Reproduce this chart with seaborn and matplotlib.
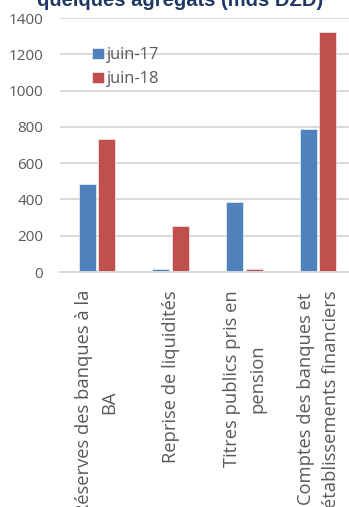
import matplotlib
matplotlib.use("Agg")
import matplotlib.pyplot as plt
import seaborn as sns
import pandas as pd

categories = [
    "Réserves des banques à la\nBA",
    "Reprise de liquidités",
    "Titres publics pris en\npension",
    "Comptes des banques et\nétablissements financiers",
]
series_names = ["juin-17", "juin-18"]
values_juin17 = [484, 15, 384, 789]
values_juin18 = [731, 254, 15, 1323]
y_ticks = [0, 200, 400, 600, 800, 1000, 1200, 1400]
title_text = "quelques agrégats (mds DZD)"

colors = ["#4F81BD", "#C0504D"]
text_gray = "#595959"
grid_gray = "#D9D9D9"

df = pd.DataFrame({
    "categorie": categories * 2,
    "serie": [series_names[0]] * 4 + [series_names[1]] * 4,
    "valeur": values_juin17 + values_juin18,
})

sns.set_theme(style="white")
plt.rcParams["font.family"] = ["Open Sans", "DejaVu Sans"]

W, H = 349, 507
fig = plt.figure(figsize=(W / 100, H / 100), dpi=100)
ax = fig.add_axes([60 / W, (H - 272) / H, 295 / W, 254 / H])

sns.barplot(
    data=df, x="categorie", y="valeur", hue="serie",
    order=categories, hue_order=series_names,
    palette=colors, saturation=1, width=0.53, gap=0.12,
    edgecolor="white", linewidth=0.4,
    ax=ax, legend=True,
)

ax.set_ylim(0, 1400)
ax.set_yticks(y_ticks)
ax.set_yticklabels([str(v) for v in y_ticks], fontsize=11, color=text_gray)
ax.set_xlabel("")
ax.set_ylabel("")
ax.yaxis.grid(True, color=grid_gray, linewidth=1.4)
ax.set_axisbelow(True)
for side in ["top", "right", "left"]:
    ax.spines[side].set_visible(False)
ax.spines["bottom"].set_color(grid_gray)
ax.spines["bottom"].set_linewidth(1.4)
ax.tick_params(axis="y", length=0, pad=12)
ax.tick_params(axis="x", length=0, pad=13)

ax.set_xticks(range(len(categories)))
ax.set_xticklabels(categories, rotation=90, fontsize=13.2, color=text_gray,
                   ha="center", va="top", multialignment="center",
                   linespacing=1.5)

handles, labels = ax.get_legend_handles_labels()
ax.legend(handles, labels, loc="upper left",
          bbox_to_anchor=(81 / W, 1 - 36 / H), bbox_transform=fig.transFigure,
          frameon=False, fontsize=11.8, labelcolor=text_gray,
          handlelength=0.7, handleheight=0.7, handletextpad=0.2,
          labelspacing=0.48, borderpad=0.2)

fig.text(180 / W, 1 - 6 / H, title_text, ha="center", va="baseline",
         fontsize=14.5, fontweight="bold", color="#1F3864",
         family=["Liberation Sans", "DejaVu Sans"])

fig.savefig("out.png", dpi=100)
